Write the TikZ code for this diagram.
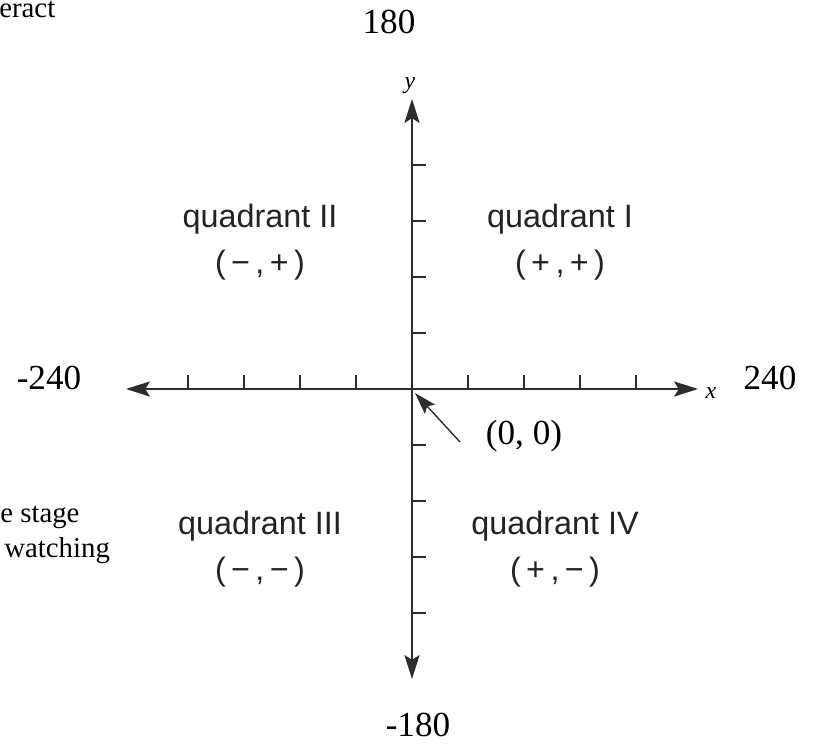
\documentclass[tikz,border=0pt]{standalone}
\usepackage{fontspec}
\setmainfont{Liberation Serif}
\newfontfamily\quadfont{Liberation Sans}
\usetikzlibrary{arrows.meta}

\definecolor{axisgray}{RGB}{45,45,45}
\definecolor{labelgray}{RGB}{35,35,35}

\begin{document}
\begin{tikzpicture}[x=0.025cm,y=-0.025cm,line cap=butt,line join=round,
    axis/.style={axisgray,line width=1pt},
    axistip/.tip={Stealth[length=0.6cm,width=0.38cm,inset=0.12cm]},
    bound/.style={inner sep=0pt,font=\fontsize{25}{29}\selectfont},
    frag/.style={inner sep=0pt,anchor=base west,font=\fontsize{20.5}{24}\selectfont},
    quad/.style={inner sep=0pt,align=center,text=labelgray,
        font=\quadfont\fontsize{23}{33}\selectfont},
    axisname/.style={inner sep=0pt,font=\fontsize{17}{20}\selectfont\itshape}]
    \useasboundingbox (0,0) rectangle (815,747);

    % Ejes
    \coordinate (O) at (412,389);
    \coordinate (xl) at (126,389);
    \coordinate (xr) at (698,389);
    \coordinate (yt) at (412,99);
    \coordinate (yb) at (412,679);
    \draw[axis,axistip-axistip] (xl) -- (xr);
    \draw[axis,axistip-axistip] (yb) -- (yt);

    % Marcas
    \foreach \k in {1,...,4} {
        \draw[axis] ({412+56*\k},389) -- ({412+56*\k},375);
        \draw[axis] ({412-56*\k},389) -- ({412-56*\k},375);
        \draw[axis] (412,{389-56*\k}) -- (426,{389-56*\k});
        \draw[axis] (412,{389+56*\k}) -- (426,{389+56*\k});
    }

    % Nombres de los ejes
    \node[axisname] (xname) at (711,393) {x};
    \node[axisname] (yname) at (410,86) {y};

    % Limites
    \node[bound,anchor=base] (xmin) at (49,390) {-240};
    \node[bound,anchor=base] (xmax) at (770,390) {240};
    \node[bound] (ymax) at (389,22) {180};
    \node[bound] (ymin) at (418,725) {-180};

    % Cuadrantes
    \node[quad] (qI) at (560,242) {quadrant I\\(\,+\,,\,+\,)};
    \node[quad] (qII) at (260,242) {quadrant II\\(\,−\,,\,+\,)};
    \node[quad] (qIII) at (260,549) {quadrant III\\(\,−\,,\,−\,)};
    \node[quad] (qIV) at (555,549) {quadrant IV\\(\,+\,,\,−\,)};

    % Origen
    \node[bound] (origin) at (524,436) {(0, 0)};
    \coordinate (ptail) at (460,442);
    \coordinate (ptip) at (415,393);
    \draw[axis,-{Stealth[length=0.55cm,width=0.34cm,inset=0.1cm]}] (ptail) -- (ptip);

    % Restos de texto
    \node[frag] (frag1) at (-1,18) {eract};
    \node[frag] (frag2) at (0,522) {e stage};
    \node[frag] (frag3) at (4,557) {watching};
\end{tikzpicture}
\end{document}
